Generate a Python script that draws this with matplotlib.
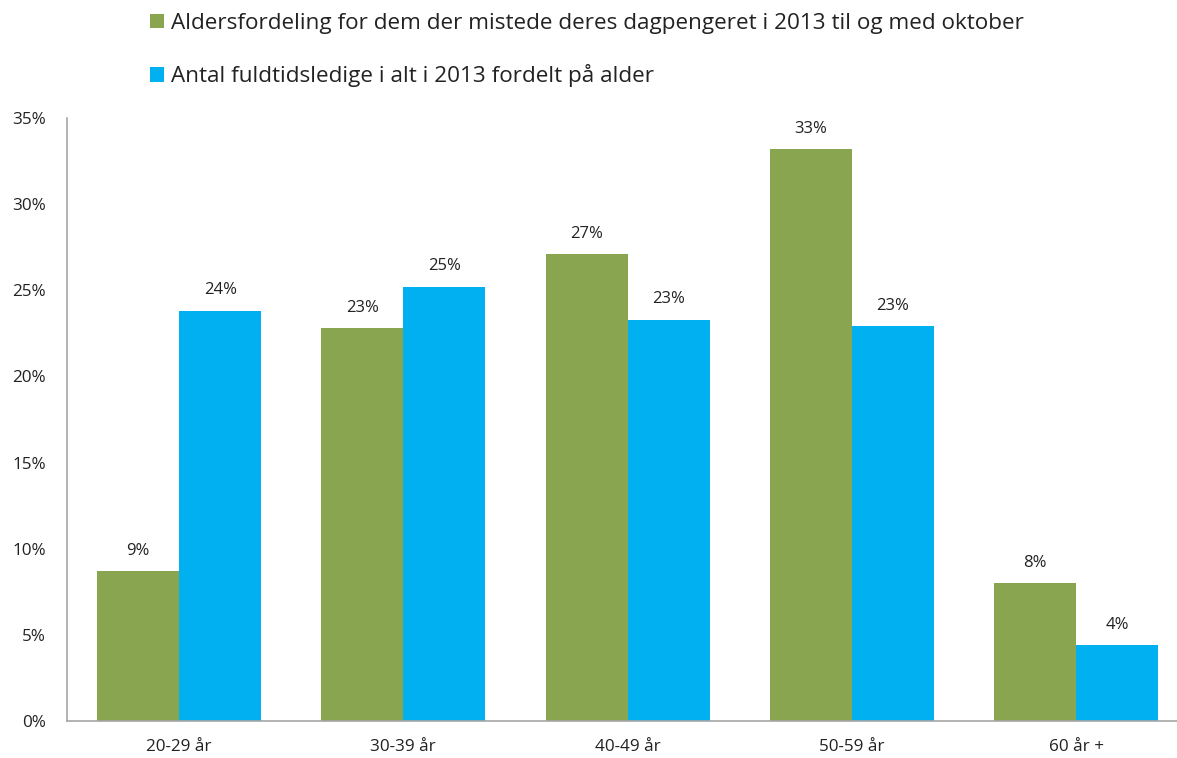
import matplotlib
matplotlib.use("Agg")
import matplotlib.pyplot as plt
import numpy as np

plt.rcParams['font.family'] = ['Open Sans', 'DejaVu Sans']

categories = ["20-29 år", "30-39 år", "40-49 år", "50-59 år", "60 år +"]
mistede = [8.7, 22.8, 27.1, 33.2, 8.0]
fuldtid = [23.8, 25.2, 23.3, 22.9, 4.4]
series_names = ["Aldersfordeling for dem der mistede deres dagpengeret i 2013 til og med oktober",
                "Antal fuldtidsledige i alt i 2013 fordelt på alder"]
yticks = [0, 5, 10, 15, 20, 25, 30, 35]

green = "#8AA54F"
blue = "#00B0F0"

W, H = 1177, 758
fig = plt.figure(figsize=(W / 100, H / 100), dpi=100)
ax = fig.add_axes([67 / W, 1 - 721 / H, 1 - 67 / W, (721 - 118) / H])

x = np.arange(len(categories))
bw = 0.366
b1 = ax.bar(x - bw / 2, mistede, bw, color=green, label=series_names[0])
b2 = ax.bar(x + bw / 2, fuldtid, bw, color=blue, label=series_names[1])

for bars, vals in ((b1, mistede), (b2, fuldtid)):
    for r, v in zip(bars, vals):
        ax.annotate(f"{round(v):d}%", (r.get_x() + r.get_width() / 2, v),
                    xytext=(0, 9), textcoords="offset points",
                    ha="center", va="bottom", fontsize=12, color="#222222")

ax.set_xlim(-0.5, -0.5 + (W - 67) / 224.25)
ax.set_ylim(0, 35)
ax.set_yticks(yticks)
ax.set_yticklabels([f"{t}%" for t in yticks])
ax.set_xticks(x)
ax.set_xticklabels(categories)
ax.tick_params(axis="both", length=0, labelsize=12.3, colors="#222222")
ax.tick_params(axis="y", pad=15)
ax.tick_params(axis="x", pad=13)
for s in ("top", "right"):
    ax.spines[s].set_visible(False)
for s in ("left", "bottom"):
    ax.spines[s].set_color("#A6A6A6")
    ax.spines[s].set_linewidth(1.2)

fig.legend(handles=[b1, b2], labels=series_names, loc="upper left",
           bbox_to_anchor=(141 / W, 1 - 4 / H), frameon=False, fontsize=16.2,
           handlelength=0.62, handleheight=0.62, handletextpad=0.3,
           labelspacing=1.35, borderaxespad=0, labelcolor="#222222")

fig.savefig("out.png", dpi=100)
